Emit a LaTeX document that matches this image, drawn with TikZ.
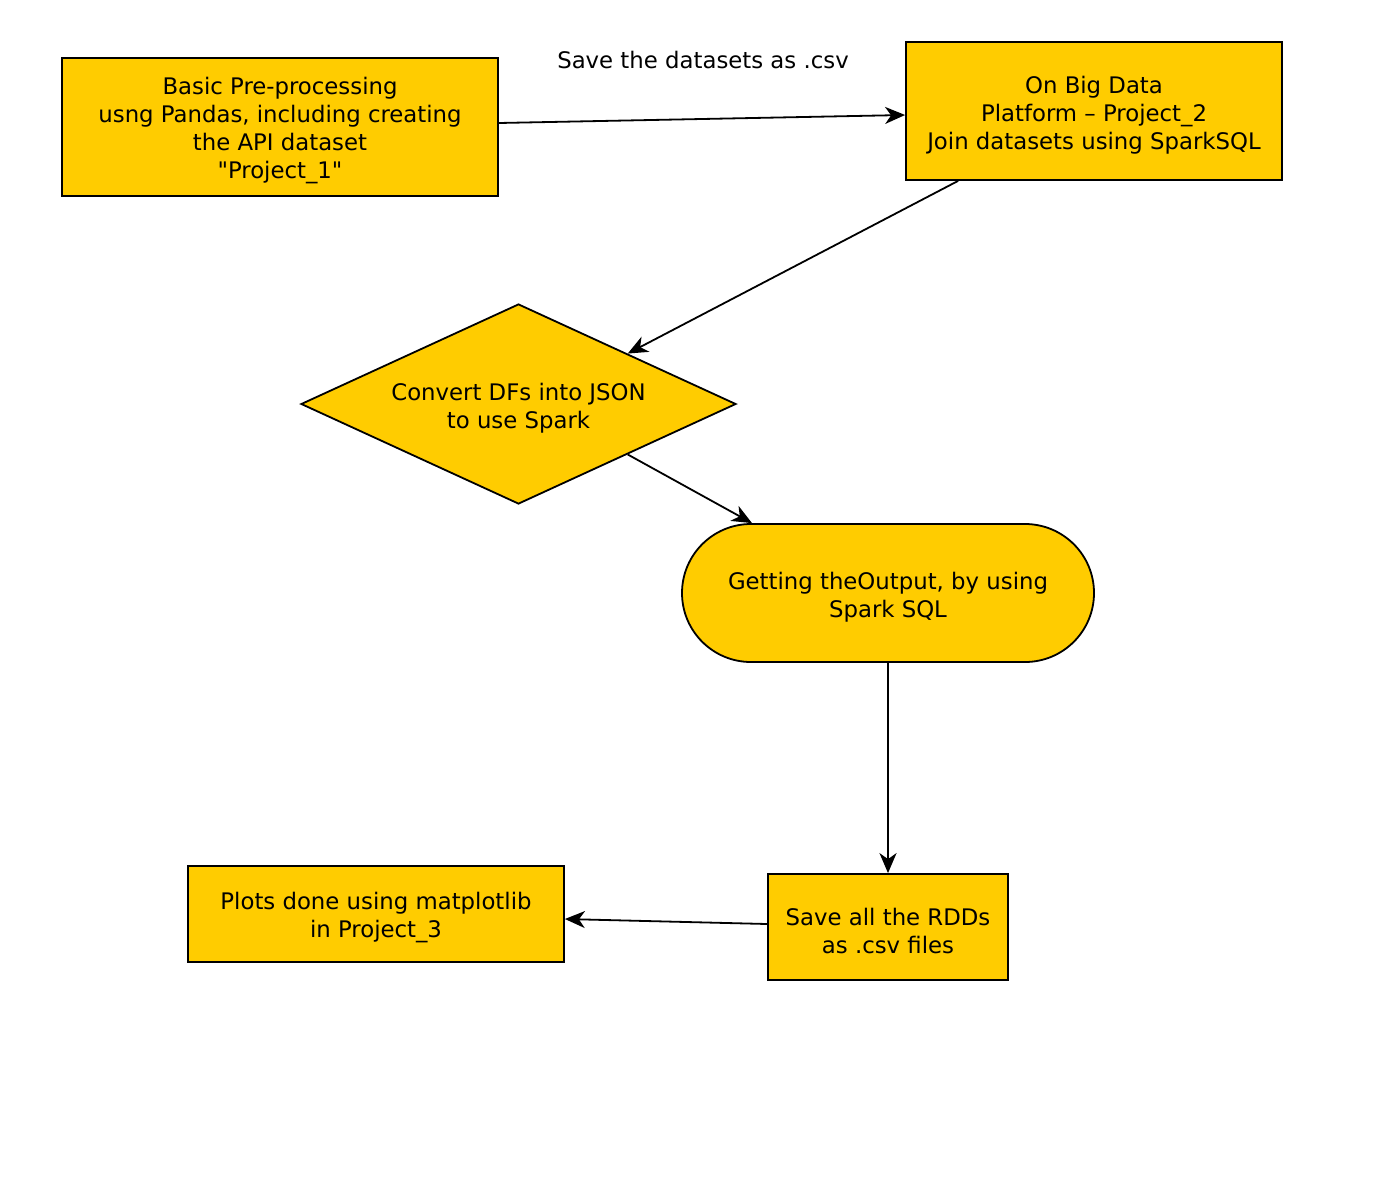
\documentclass[tikz,border=0pt]{standalone}
\usepackage{fontspec}
\newfontfamily\plainfont{DejaVu Sans}
\usetikzlibrary{shapes.geometric,arrows.meta}
\definecolor{boxfill}{HTML}{FFCC00}
\begin{document}
\begin{tikzpicture}[x=1pt,y=-1pt,
  every node/.style={font=\plainfont\fontsize{22.8}{28}\selectfont, align=center, inner sep=0pt},
  box/.style={draw=black, line width=1.8pt, fill=boxfill, rectangle},
  txt/.style={yshift=-4pt},
  conn/.style={draw=black, line width=1.8pt, -{Stealth[length=20pt,width=17pt,inset=6pt]}}]
\useasboundingbox (0,0) rectangle (1388,1202);
\node[box, minimum width=436pt, minimum height=138pt] (b1) at (280,127) {};
\node[txt] (b1t) at (b1.center)
  {Basic Pre-processing\\usng Pandas, including creating\\the API dataset\\ "Project\_1"};
\node[box, minimum width=376pt, minimum height=138pt] (b2) at (1094,111) {};
\node[txt] (b2t) at (b2.center)
  {On Big Data\\Platform – Project\_2\\Join datasets using SparkSQL};
\node (lbl) at (703,60) {Save the datasets as .csv};
\node[draw=black, line width=1.8pt, fill=boxfill, diamond, aspect=2.175,
  minimum width=435pt, minimum height=200pt] (d) at (518.5,404) {};
\node[txt] (dt) at (d.center) {Convert DFs into JSON\\to use Spark};
\node[box, rounded corners=69pt, minimum width=412pt, minimum height=138pt] (st) at (888,593) {};
\node[txt] (stt) at (st.center) {Getting theOutput, by using\\Spark SQL};
\node[box, minimum width=240pt, minimum height=106pt] (sv) at (888,927) {};
\node[txt] (svt) at (sv.center) {Save all the RDDs\\as .csv files};
\node[box, minimum width=376pt, minimum height=96pt] (pl) at (376,914) {};
\node[txt] (plt) at (pl.center) {Plots done using matplotlib\\in Project\_3};
\draw[conn] ([yshift=4pt]b1.east) -- ([yshift=-4pt]b2.west);
\draw[conn] ([xshift=53pt]b2.south west) -- (d.north east);
\draw[conn] (d.south east) -- ([xshift=-136pt]st.north);
\draw[conn] (st.south) -- (sv.north);
\draw[conn] ([yshift=3pt]sv.west) -- ([yshift=-5pt]pl.east);
\end{tikzpicture}
\end{document}
